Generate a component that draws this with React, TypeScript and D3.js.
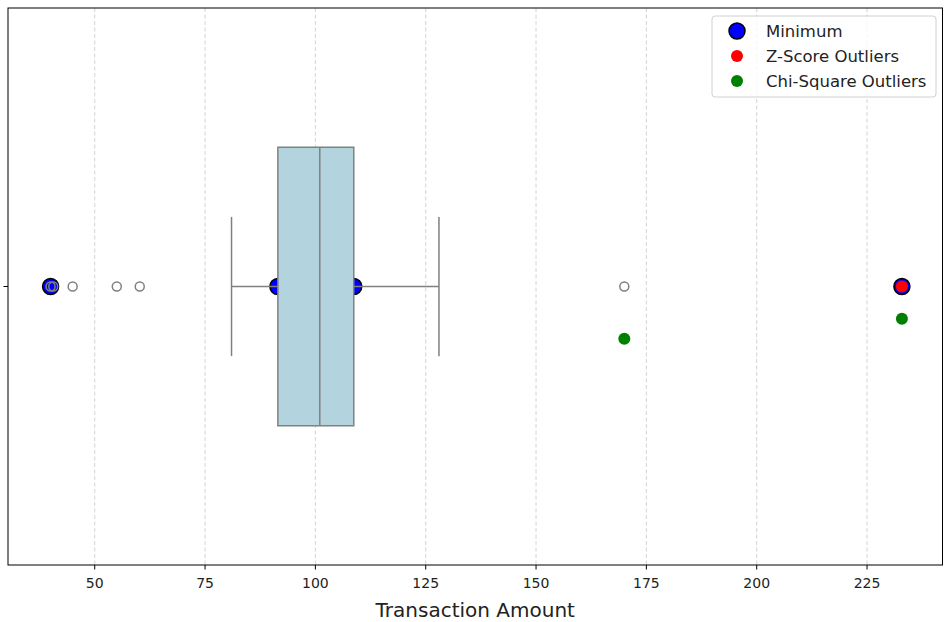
import React from "react";
import * as d3 from "d3";

const boxStats = { whiskerLow: 81, q1: 91.5, median: 101, q3: 108.7, whiskerHigh: 128 };
const fliers = [40, 40.6, 45, 55, 60.2, 170, 232.9];
const minimumPoints = [40, 91.5, 108.7, 232.9];
const zScoreOutliers = [232.9];
const chiSquareValues = [170, 232.9];
const chiSquareOffsets = [0.094, 0.058];
const xTicks = [50, 75, 100, 125, 150, 175, 200, 225];
const legendLabels = ["Minimum", "Z-Score Outliers", "Chi-Square Outliers"];

const W = 944, H = 622;
const L = 8, T = 8, R = 942.5, B = 565;
const FONT = "DejaVu Sans, Liberation Sans, sans-serif";

export default function App() {
  const x = d3.scaleLinear().domain([30.35, 242.1]).range([L, R]);
  const y = d3.scaleLinear().domain([-0.5, 0.5]).range([T, B]);
  const yc = y(0);
  const boxHalf = y(0.25) - yc;
  const capHalf = boxHalf / 2;
  const grey = "#808080";
  const legendColors = ["blue", "red", "green"];

  return (
    <svg width={W} height={H} style={{ position: "absolute", left: 0, top: 0, background: "#fff" }} fontFamily={FONT}>
      <rect x={0} y={0} width={W} height={H} fill="#fff" />
      {xTicks.map((t) => (
        <line key={"g" + t} x1={x(t)} x2={x(t)} y1={T} y2={B} stroke="#b0b0b0" strokeOpacity={0.7} strokeWidth={0.8} strokeDasharray="4,2.5" />
      ))}
      {minimumPoints.map((v, i) => (
        <circle key={"m" + i} cx={x(v)} cy={yc} r={8} fill="blue" stroke="black" strokeWidth={1.5} />
      ))}
      <line x1={x(boxStats.whiskerLow)} x2={x(boxStats.q1)} y1={yc} y2={yc} stroke={grey} strokeWidth={1.5} />
      <line x1={x(boxStats.q3)} x2={x(boxStats.whiskerHigh)} y1={yc} y2={yc} stroke={grey} strokeWidth={1.5} />
      <line x1={x(boxStats.whiskerLow)} x2={x(boxStats.whiskerLow)} y1={yc - capHalf} y2={yc + capHalf} stroke={grey} strokeWidth={1.5} />
      <line x1={x(boxStats.whiskerHigh)} x2={x(boxStats.whiskerHigh)} y1={yc - capHalf} y2={yc + capHalf} stroke={grey} strokeWidth={1.5} />
      <rect x={x(boxStats.q1)} y={yc - boxHalf} width={x(boxStats.q3) - x(boxStats.q1)} height={2 * boxHalf} fill="#b3d4df" stroke={grey} strokeWidth={1.5} />
      <line x1={x(boxStats.median)} x2={x(boxStats.median)} y1={yc - boxHalf} y2={yc + boxHalf} stroke={grey} strokeWidth={1.5} />
      {fliers.map((v, i) => (
        <circle key={"f" + i} cx={x(v)} cy={yc} r={4.5} fill="none" stroke={grey} strokeWidth={1.5} />
      ))}
      {zScoreOutliers.map((v, i) => (
        <circle key={"z" + i} cx={x(v)} cy={yc} r={6} fill="red" />
      ))}
      {chiSquareValues.map((v, i) => (
        <circle key={"c" + i} cx={x(v)} cy={y(chiSquareOffsets[i])} r={6} fill="green" />
      ))}
      <rect x={L} y={T} width={R - L} height={B - T} fill="none" stroke="#000" strokeWidth={1} />
      {xTicks.map((t) => (
        <g key={"t" + t}>
          <line x1={x(t)} x2={x(t)} y1={B} y2={B + 4.5} stroke="#000" strokeWidth={1} />
          <text x={x(t)} y={B + 12} dy="0.8em" textAnchor="middle" fontSize={14} fill="#222">{t}</text>
        </g>
      ))}
      <line x1={L - 4.5} x2={L} y1={yc} y2={yc} stroke="#000" strokeWidth={1} />
      <text x={(L + R) / 2} y={617} textAnchor="middle" fontSize={20} fill="#222">Transaction Amount</text>
      <rect x={712} y={16} width={224} height={81} rx={3} fill="#fff" fillOpacity={0.8} stroke="#d0d0d0" strokeWidth={1} />
      {legendLabels.map((lab, i) => (
        <g key={"l" + i} transform={`translate(0, ${31 + i * 25})`}>
          {i === 0 ? (
            <circle cx={737} cy={0} r={8} fill="blue" stroke="black" strokeWidth={1.5} />
          ) : (
            <circle cx={737} cy={0} r={6} fill={legendColors[i]} />
          )}
          <text x={766} y={0} dy="0.35em" fontSize={16.5} fill="#222">{lab}</text>
        </g>
      ))}
    </svg>
  );
}
